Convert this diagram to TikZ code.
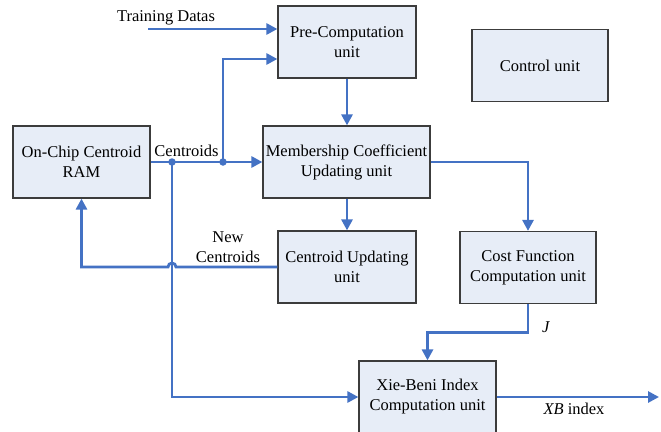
\documentclass[tikz,border=0pt]{standalone}
\usepackage{fontspec}
\setmainfont{Liberation Serif}
\usetikzlibrary{positioning,arrows.meta,calc}
\definecolor{lineblue}{RGB}{68,114,196}
\definecolor{boxfill}{RGB}{231,237,247}
\definecolor{boxedge}{RGB}{60,60,60}
\tikzset{
  blk/.style={draw=boxedge, line width=1.2pt, fill=boxfill, align=center,
              inner sep=0pt, minimum height=72pt},
  flow/.style={-{Triangle[length=11pt,width=11pt]}, draw=lineblue, line width=2.8pt},
  jdot/.style={fill=lineblue, circle, inner sep=0pt, minimum size=7.5pt},
}

\begin{document}
\begin{tikzpicture}[x=1pt, y=-1pt, font=\fontsize{16.5}{20}\selectfont]
    \useasboundingbox (0,0) rectangle (661,431);

    \node[blk, minimum width=138pt] (pre)  at (347,42)    {Pre-Computation\\unit};
    \node[blk, minimum width=136pt] (ctrl) at (540,65.5)  {Control unit};
    \node[blk, minimum width=137pt] (ram)  at (81.5,162) {On-Chip Centroid\\RAM};
    \node[blk, minimum width=167pt] (memb) at (346.5,162) {Membership Coefficient\\Updating unit};
    \node[blk, minimum width=138pt] (cupd) at (347,267)   {Centroid Updating\\unit};
    \node[blk, minimum width=136pt] (cost) at (528,267.5) {Cost Function\\Computation unit};
    \node[blk, minimum width=137pt] (xb)   at (427.5,397) {Xie-Beni Index\\Computation unit};

    \coordinate (td)    at (148,29);
    \coordinate (dotA)  at (172,162);
    \coordinate (dotB)  at (223,162);
    \coordinate (xbout) at (659,397);

    \draw[flow] (td) -- (td -| pre.west);
    \draw[flow] (ram.east) -- (memb.west);
    \draw[flow] (dotB) |- ([yshift=-17pt]pre.west);
    \draw[flow] (pre.south) -- (pre.south |- memb.north);
    \draw[flow] (cupd.north |- memb.south) -- (cupd.north);
    \draw[flow] (memb.east) -| (cost.north);
    \draw[flow] (cupd.west) -- ($(cupd.west -| dotA)+(4,0)$)
      arc[start angle=0, end angle=180, radius=4pt] -| (ram.south);
    \draw[flow] (dotA) |- (xb.west);
    \draw[flow] (cost.south) -- ++(0,28) -| (xb.north);
    \draw[flow] (xb.east) -- (xbout);
    \node[jdot] (jA) at (dotA) {};
    \node[jdot] (jB) at (dotB) {};

    \node (lbltd)  at (166,18)    {Training Datas};
    \node (lblcen) at (186.5,151) {Centroids};
    \node[align=center] (lblnew) at (228,247) {New\\Centroids};
    \node (lblj)   at (546,327)   {\textit{J}};
    \node (lblxb)  at (574,409)   {\textit{XB} index};
  \end{tikzpicture}
\end{document}
